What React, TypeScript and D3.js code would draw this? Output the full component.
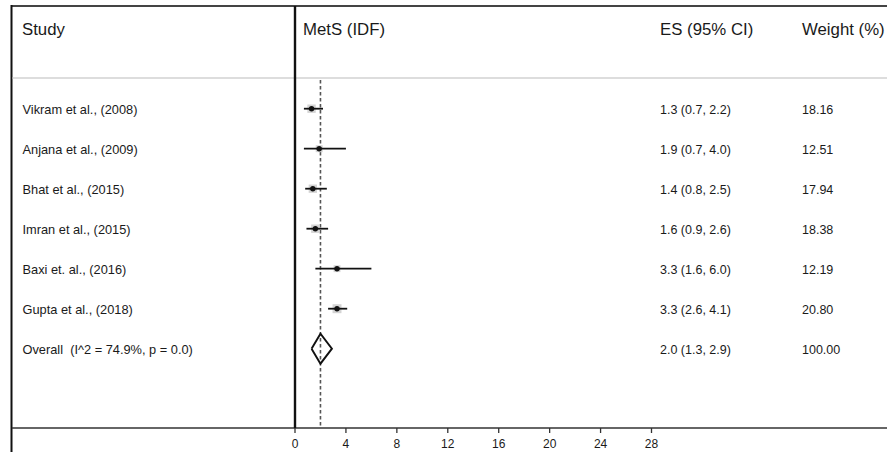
import React from "react";
import * as d3 from "d3";

const studies = [
  "Vikram et al., (2008)",
  "Anjana et al., (2009)",
  "Bhat et al., (2015)",
  "Imran et al., (2015)",
  "Baxi et. al., (2016)",
  "Gupta et al., (2018)",
];
const es = [1.3, 1.9, 1.4, 1.6, 3.3, 3.3];
const lo = [0.7, 0.7, 0.8, 0.9, 1.6, 2.6];
const hi = [2.2, 4.0, 2.5, 2.6, 6.0, 4.1];
const weights = ["18.16", "12.51", "17.94", "18.38", "12.19", "20.80"];
const overallLabel = "Overall  (I^2 = 74.9%, p = 0.0)";
const overall = { es: 2.0, lo: 1.3, hi: 2.9, text: "2.0 (1.3, 2.9)", weight: "100.00" };
const ticks = [0, 4, 8, 12, 16, 20, 24, 28];

const W = 887;
const H = 452;
const font = "'Liberation Sans', Arial, Helvetica, sans-serif";

export default function App() {
  const x = d3.scaleLinear().domain([0, 28]).range([295, 651.5]);
  const rows = [...studies, overallLabel];
  const y = d3.scalePoint<string>().domain(rows).range([108.7, 348.7]);
  const wScale = d3.scaleSqrt().domain([0, 21]).range([0, 9]);
  const fmt = d3.format(".1f");
  const axisY = 428;
  const nameSize = 12.8;
  const valSize = 12.5;

  return (
    <svg
      width={W}
      height={H}
      style={{ position: "absolute", left: 0, top: 0, background: "#fff" }}
      fontFamily={font}
    >
      <rect x={0} y={0} width={W} height={H} fill="#fff" />
      {/* frame */}
      <line x1={11} x2={W} y1={6} y2={6} stroke="#444" strokeWidth={1.8} />
      <line x1={11.5} x2={11.5} y1={5} y2={H} stroke="#111" strokeWidth={2} />
      <line x1={12} x2={W} y1={78} y2={78} stroke="#bbb" strokeWidth={1.2} />
      <line x1={12} x2={W} y1={axisY} y2={axisY} stroke="#333" strokeWidth={1.5} />
      <line x1={x(0)} x2={x(0)} y1={6} y2={axisY} stroke="#111" strokeWidth={2.4} />

      {/* headers */}
      <g fontSize={16.8} fill="#1a1a1a">
        <text x={22} y={35}>Study</text>
        <text x={303} y={35}>MetS (IDF)</text>
        <text x={660} y={35}>ES (95% CI)</text>
        <text x={802} y={35}>Weight (%)</text>
      </g>

      {/* reference dashed line at overall */}
      <line
        x1={x(overall.es)}
        x2={x(overall.es)}
        y1={80}
        y2={axisY}
        stroke="#555"
        strokeWidth={1.6}
        strokeDasharray="3.5,2.5"
      />

      {/* studies */}
      {studies.map((s, i) => {
        const cy = y(s)!;
        const sz = wScale(+weights[i]);
        return (
          <g key={s}>
            <text x={22.5} y={cy + 5} fontSize={nameSize} fill="#1a1a1a">{s}</text>
            <rect x={x(es[i]) - sz / 2} y={cy - sz / 2} width={sz} height={sz} fill="#d4d4d4" />
            <line x1={x(lo[i])} x2={x(hi[i])} y1={cy} y2={cy} stroke="#111" strokeWidth={1.8} />
            <circle cx={x(es[i])} cy={cy} r={2.7} fill="#111" />
            <text x={660} y={cy + 5} fontSize={valSize} fill="#1a1a1a">
              {`${fmt(es[i])} (${fmt(lo[i])}, ${fmt(hi[i])})`}
            </text>
            <text x={802} y={cy + 5} fontSize={valSize} fill="#1a1a1a">{weights[i]}</text>
          </g>
        );
      })}

      {/* overall */}
      {(() => {
        const cy = y(overallLabel)!;
        const hh = 15;
        const path = d3.line()([
          [x(overall.lo), cy],
          [x(overall.es), cy - hh],
          [x(overall.hi), cy],
          [x(overall.es), cy + hh],
          [x(overall.lo), cy],
        ]);
        return (
          <g>
            <text x={22.5} y={cy + 5} fontSize={nameSize} fill="#1a1a1a" style={{ whiteSpace: "pre" }}>
              {overallLabel}
            </text>
            <path d={path!} fill="none" stroke="#111" strokeWidth={1.9} strokeLinejoin="miter" />
            <text x={660} y={cy + 5} fontSize={valSize} fill="#1a1a1a">{overall.text}</text>
            <text x={802} y={cy + 5} fontSize={valSize} fill="#1a1a1a">{overall.weight}</text>
          </g>
        );
      })()}

      {/* axis ticks */}
      {ticks.map((t) => (
        <g key={t}>
          <line x1={x(t)} x2={x(t)} y1={axisY} y2={axisY + 5} stroke="#333" strokeWidth={1.3} />
          <text x={x(t)} y={448} fontSize={12} textAnchor="middle" fill="#1a1a1a">{t}</text>
        </g>
      ))}
    </svg>
  );
}
